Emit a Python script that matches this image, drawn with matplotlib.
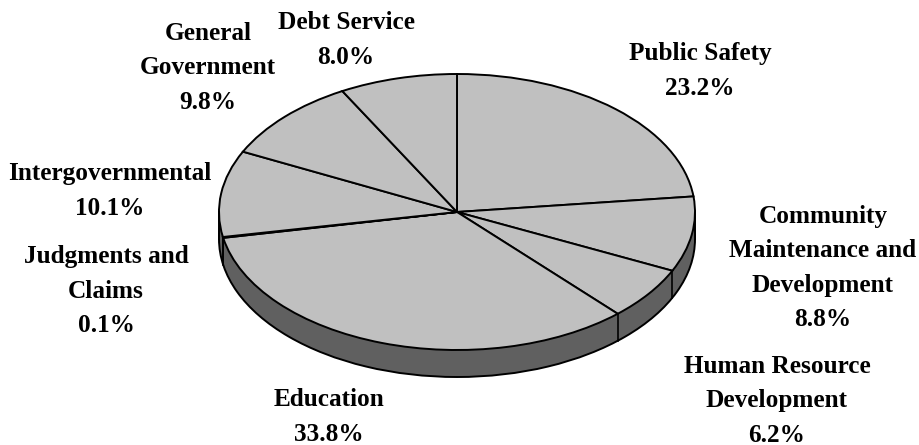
import numpy as np
import matplotlib
matplotlib.use("Agg")
import matplotlib.pyplot as plt
from matplotlib.patches import Rectangle

categories = ["Public Safety", "Community\nMaintenance and\nDevelopment", "Human Resource\nDevelopment",
              "Education", "Judgments and\nClaims", "Intergovernmental", "General\nGovernment", "Debt Service"]
values = [23.2, 8.8, 6.2, 33.8, 0.1, 10.1, 9.8, 8.0]

W, H = 919, 445
CX, CY, RX, RY, DEPTH = 457, 212, 238, 138, 27
TOP = "#c0c0c0"
SIDE = "#606060"
label_px = [(700, 71), (823, 268), (777, 401), (329, 417), (106, 291), (110, 191), (208, 68), (346, 40)]

fig = plt.figure(figsize=(W / 100, H / 100), dpi=100, facecolor="white")
ax = fig.add_axes([0, 0, 1, 1])
d = DEPTH / RY
# underside: one solid disc, so that no radial lines show through the wall
ax.pie([sum(values)], startangle=90, counterclock=False, colors=[SIDE], center=(0, -d),
       wedgeprops=dict(edgecolor="black", linewidth=1.4), frame=True)
ax.add_patch(Rectangle((-1, -d), 2, d, facecolor=SIDE, edgecolor="none", zorder=1.5))
ax.plot([-1, -1], [-d, 0], color="black", lw=1.4, zorder=1.6)
ax.plot([1, 1], [-d, 0], color="black", lw=1.4, zorder=1.6)
angles = 2 * np.pi * np.cumsum(values) / np.sum(values)
for a in angles:
    if np.cos(a) < 0:
        x, y = np.sin(a), np.cos(a)
        ax.plot([x, x], [y, y - d], color="black", lw=1.2, zorder=2.5)
wedges, _ = ax.pie(values, startangle=90, counterclock=False, colors=[TOP],
                   wedgeprops=dict(edgecolor="black", linewidth=1.4), frame=True)
for w in wedges:
    w.set_zorder(3)
ax.set_aspect("auto")
ax.set_xlim(-CX / RX, (W - CX) / RX)
ax.set_ylim(-(H - CY) / RY, CY / RY)
ax.axis("off")

for cat, val, (px, py) in zip(categories, values, label_px):
    fig.text(px / W, 1 - py / H, f"{cat}\n{val:.1f}%", ha="center", va="center", ma="center",
             family="Liberation Serif", weight="bold", fontsize=18.2, linespacing=1.63, color="black")

fig.savefig("out.png", dpi=100)
